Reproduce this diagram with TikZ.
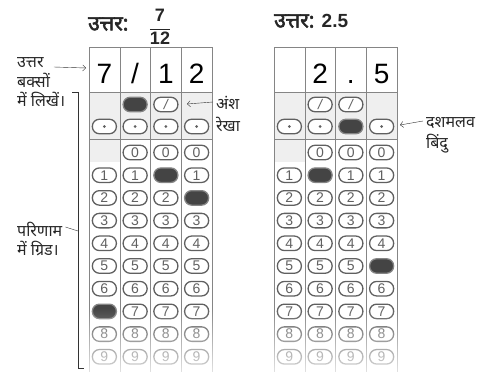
\documentclass[tikz,border=0pt]{standalone}
\usepackage{fontspec}
\setmainfont{Liberation Sans}
\newfontfamily\hindi[Script=Devanagari]{Noto Sans}
\newfontfamily\hindibold[Script=Devanagari, FakeBold=2.5]{Noto Sans}
\usetikzlibrary{arrows.meta, fadings}

\definecolor{gridgray}{HTML}{858585}
\definecolor{bubgray}{HTML}{606060}
\definecolor{cellgray}{HTML}{EFEFEF}
\definecolor{inkfill}{HTML}{444444}
\tikzfading[name=fade bottom, top color=transparent!100, bottom color=transparent!0]

% marked bubbles: grid, column, row (s = slash, d = dot)
\newcommand\inked[1]{\expandafter\def\csname ink#1\endcsname{}}
\inked{L2s}\inked{L31}\inked{L42}\inked{L17}
\inked{R3d}\inked{R21}\inked{R45}

\begin{document}
\begin{tikzpicture}[x=1pt, y=-1pt, >={Straight Barb[length=3pt,width=6pt]},
  bubble/.style={draw=bubgray, line width=1.3pt, rounded corners=7pt,
    minimum width=24pt, minimum height=14.5pt, inner sep=0pt, text=bubgray,
    font=\fontsize{14}{14}\selectfont},
  ansdigit/.style={font=\fontsize{28}{28}\selectfont, inner sep=0pt, anchor=base},
  sidetext/.style={font=\hindi\fontsize{16}{19}\selectfont, inner sep=0pt, text=black!85},
  headtext/.style={font=\hindibold\fontsize{21}{21}\selectfont, inner sep=0pt, text=black!85}]
  \useasboundingbox (0,0) rectangle (486,375);

  % Titles
  \node[headtext, anchor=west] (titleL) at (88,24) {उत्तर:};
  \node[font=\bfseries\fontsize{18}{18}\selectfont, inner sep=0pt, text=black!85] (fracL) at (160,27)
    {$\displaystyle\frac{\mbox{7}}{\mbox{12}}$};
  \node[headtext, anchor=west] (titleR) at (274,21) {उत्तर: {\rmfamily\bfseries\fontsize{19}{19}\selectfont 2.5}};

  % Both grids
  \foreach \g/\gx in {L/89, R/274} {
    \fill[cellgray] (\gx,92) rectangle (\gx+123,139);
    \fill[cellgray] (\gx,139) rectangle (\gx+30.75,162);
    \draw[gridgray] (\gx,47) -- (\gx+123,47);
    \draw[gridgray] (\gx,92) -- (\gx+123,92);
    \draw[gridgray] (\gx,139) -- (\gx+123,139);
    \foreach \k in {0,...,4}
      \draw[gridgray] (\gx+30.75*\k,47) -- (\gx+30.75*\k,372);
    % slash row
    \foreach \col in {2,3} {
      \ifcsname ink\g\col s\endcsname
        \node[bubble, fill=inkfill, draw=gridgray] (\g-\col-s) at ({\gx+30.75*(\col-0.5)},104.5) {};
      \else
        \node[bubble, fill=white] (\g-\col-s) at ({\gx+30.75*(\col-0.5)},104.5) {\itshape/};
      \fi
    }
    % dot row
    \foreach \col in {1,...,4} {
      \ifcsname ink\g\col d\endcsname
        \node[bubble, fill=inkfill, draw=gridgray] (\g-\col-d) at ({\gx+30.75*(\col-0.5)},126.5) {};
      \else
        \node[bubble, fill=white] (\g-\col-d) at ({\gx+30.75*(\col-0.5)},126.5) {};
        \fill[bubgray] (\g-\col-d) circle (1.5pt);
      \fi
    }
    % digit rows
    \foreach \col in {1,...,4}
      \foreach \row in {0,...,9} {
        \pgfmathtruncatemacro\noslot{and(\col==1,\row==0)}
        \ifnum\noslot=0
          \ifcsname ink\g\col\row\endcsname
            \node[bubble, fill=inkfill, draw=gridgray] (\g-\col-\row) at ({\gx+30.75*(\col-0.5)},{152.5+22.7*\row}) {};
          \else
            \node[bubble, fill=white] (\g-\col-\row) at ({\gx+30.75*(\col-0.5)},{152.5+22.7*\row}) {\row};
          \fi
        \fi
      }
    % fade out at the bottom
    \fill[white, path fading=fade bottom] (\gx-1,308) rectangle (\gx+124,392);
  }

  % Written answers
  \foreach \col/\ch in {1/7, 2/{/}, 3/1, 4/2}
    \node[ansdigit] (L-ans-\col) at ({89+30.75*(\col-0.5)},83) {\ch};
  \foreach \col/\ch in {2/2, 3/., 4/5}
    \node[ansdigit] (R-ans-\col) at ({274+30.75*(\col-0.5)},83) {\ch};

  % Left notes
  \node[sidetext, anchor=west] (boxnote) at (17,63) {उत्तर};
  \node[sidetext, anchor=north west, align=left] (boxnote2) at (17,73) {बक्सों\\में लिखें।};
  \coordinate (boxpt) at (86,68);
  \draw[->, black!80] ([xshift=10pt, yshift=-4pt]boxnote.east) -- (boxpt);

  \node[sidetext, anchor=west] (gridnote) at (17,229) {परिणाम};
  \node[sidetext, anchor=west] (gridnote2) at (17,249) {में ग्रिड।};
  \coordinate (brtop) at (78,92);
  \coordinate (brbot) at (78,368);
  \coordinate (brmid) at (78,231);
  \draw[black!80] ([xshift=-6pt]brtop) -- (brtop) -- (brbot) -- ++(6,0);
  \draw[black!80] ([xshift=3pt, yshift=2pt]gridnote.east) -- (brmid);

  % Right notes
  \node[sidetext, anchor=west] (slashnote) at (216,103) {अंश};
  \node[sidetext, anchor=west] (slashnote2) at (216,124) {रेखा};
  \coordinate (slashpt) at (187,104);
  \draw[->, black!80] ([xshift=-3pt, yshift=1pt]slashnote.west) -- (slashpt);

  \node[sidetext, anchor=west] (dotnote) at (426,123) {दशमलव};
  \node[sidetext, anchor=west] (dotnote2) at (426,144) {बिंदु};
  \coordinate (dotpt) at (400,125);
  \draw[->, black!80] ([xshift=-3pt, yshift=2pt]dotnote.west) -- (dotpt);
\end{tikzpicture}
\end{document}
